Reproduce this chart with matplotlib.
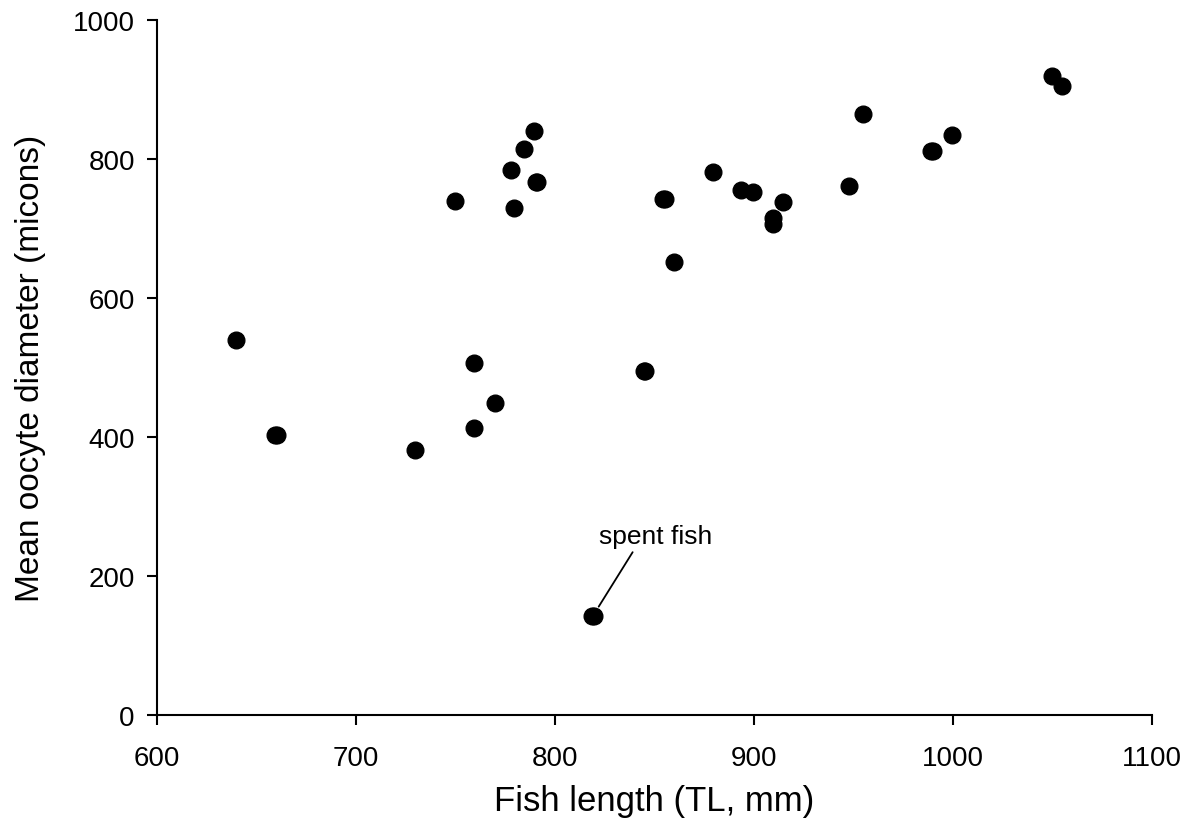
import matplotlib
matplotlib.use('Agg')
import matplotlib.pyplot as plt

plt.rcParams['font.family'] = ['Liberation Sans', 'DejaVu Sans']

# total length (mm) and mean oocyte diameter per fish
fish_length = [639.5, 659.2, 660.2, 729.6, 749.7, 759.5, 759.5, 769.6, 777.9, 779.4,
               784.4, 789.4, 790.2, 791.0, 818.7, 819.5, 844.5, 845.3, 854.5, 855.3,
               860, 879.2, 893.3, 899.6, 909.4, 909.4, 914.6, 947.7, 954.6, 989.0,
               989.8, 999.5, 1049.7, 1054.6]
oocyte_diam = [540, 403, 403, 381, 740, 507, 413, 449, 785, 730,
               814, 840, 767, 767, 142, 142, 495, 495, 743, 743,
               652, 782, 756, 753, 715, 707, 739, 762, 865, 812,
               812, 835, 920, 906]

spent_x, spent_y = 819, 142
spent_label = 'spent fish'

x_ticks = [600, 700, 800, 900, 1000, 1100]
y_ticks = [0, 200, 400, 600, 800, 1000]

fig = plt.figure(figsize=(11.95, 8.29), dpi=100)
ax = fig.add_axes([0.1314, 0.1367, 0.8326, 0.8376])

ax.plot(fish_length, oocyte_diam, linestyle='none', marker='o',
        markersize=12, color='black', clip_on=False)

ax.annotate(spent_label, xy=(spent_x, spent_y), xytext=(850.5, 257),
            ha='center', va='center', fontsize=19,
            arrowprops=dict(arrowstyle='-', color='black', lw=1.3,
                            relpos=(0.32, 0.0), shrinkA=1, shrinkB=8))

ax.set_xlim(600, 1100)
ax.set_ylim(0, 1000)
ax.set_xticks(x_ticks)
ax.set_yticks(y_ticks)
ax.tick_params(direction='out', length=7, width=1.5, labelsize=20)
ax.tick_params(axis='x', pad=15)
ax.tick_params(axis='y', pad=9)

for side in ['top', 'right']:
    ax.spines[side].set_visible(False)
for side in ['left', 'bottom']:
    ax.spines[side].set_linewidth(1.5)

ax.set_xlabel('Fish length (TL, mm)', fontsize=25, labelpad=9)
ax.set_ylabel('Mean oocyte diameter (micons)', fontsize=24, labelpad=19)

fig.savefig('out.png', dpi=100)
